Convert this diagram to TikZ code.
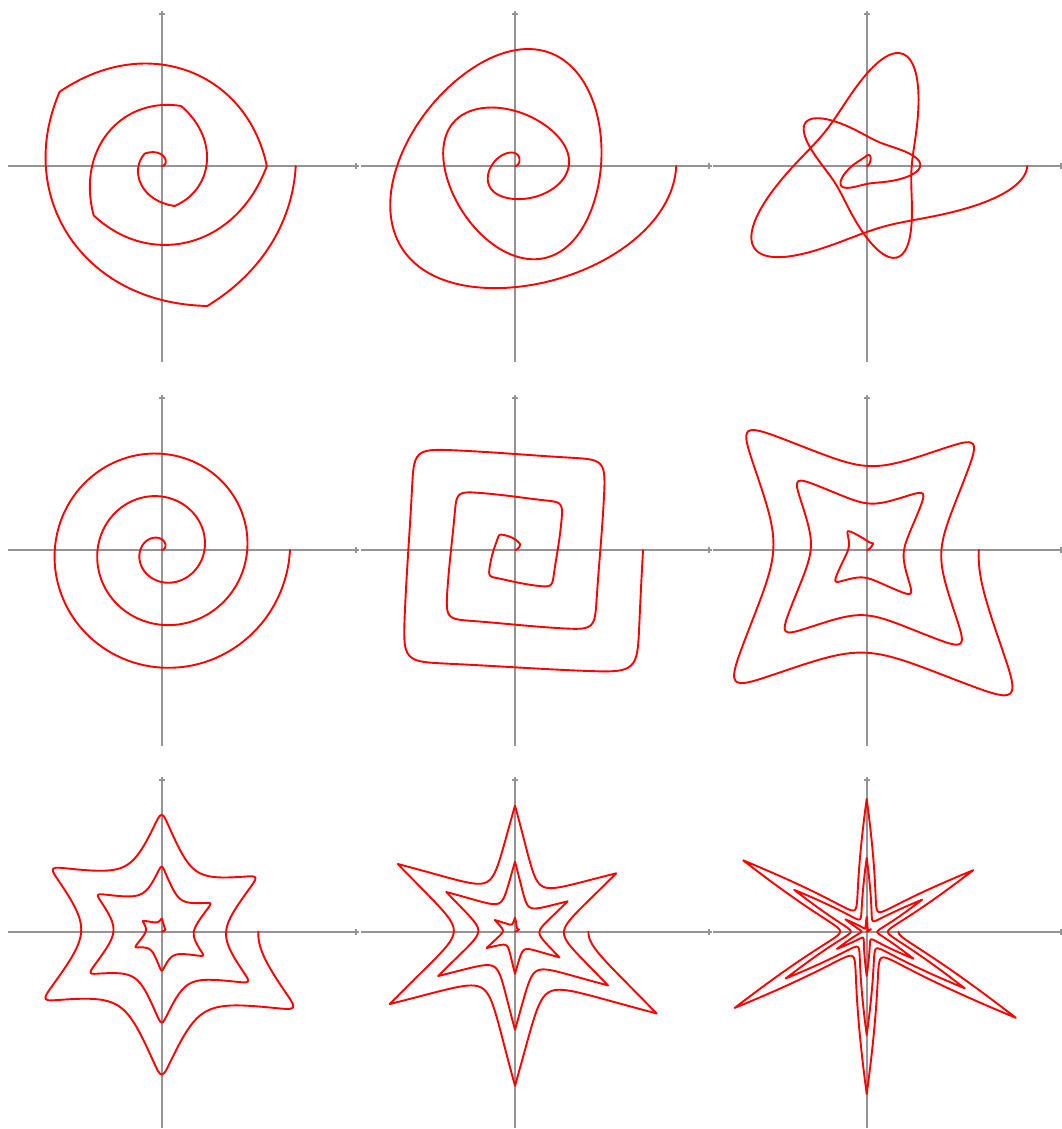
\documentclass[tikz,border=0pt]{standalone}
\begin{document}
\begin{tikzpicture}[x=0.5pt,y=0.5pt,
  declare function={
    sfr(\sfu,\sfn,\sfd)=pow(pow(1.41421*cos(\sfu),\sfn)+pow(1.41421*sin(\sfu),\sfn),-1/\sfd)*pow(2,\sfn/(2*\sfd));
    sfx(\sfu,\sfp)=pow(max(abs(cos(\sfu)),abs(sin(\sfu))),-\sfp);
  },
  axisline/.style={draw=black!42, line width=0.85pt},
  curve/.style={draw=red, line width=0.95pt, line join=round, line cap=round},
  panel/.pic={
    \draw[axisline] (-154,0) -- (197,0);
    \draw[axisline] (0,-196) -- (0,155);
    \draw[axisline] (194,-3) -- (194,3);
    \draw[axisline] (-3,152) -- (3,152);
  }]
\useasboundingbox (0,0) rectangle (1061,1129);
\fill[white] (0,0) rectangle (1061,1129);

% row 1
\begin{scope}[shift={(161.7,963)}]
  \pic {panel};
  \draw[curve] plot[domain=0:1080,samples=541,variable=\t,smooth]
    (\t:{0.146*\t*pow(abs(cos(0.625*\t))+abs(sin(0.625*\t)),-0.47)});
\end{scope}
\begin{scope}[shift={(515,963)}]
  \pic {panel};
  \draw[curve] plot[domain=0:1080,samples=433,variable=\t,smooth]
    (\t:{0.1194*\t*sfr(0.625*\t,4,3.1)});
\end{scope}
\begin{scope}[shift={(866.7,963)}]
  \pic {panel};
  \draw[curve] plot[domain=0:1080,samples=541,variable=\t,smooth]
    (\t:{0.0625*\t*sfr(0.625*\t,8,2.4)});
\end{scope}

% row 2
\begin{scope}[shift={(161.7,579)}]
  \pic {panel};
  \draw[curve] plot[domain=0:1080,samples=217,variable=\t,smooth]
    (\t:{0.1188*\t});
\end{scope}
\begin{scope}[shift={(515,579)}]
  \pic {panel};
  \draw[curve] plot[domain=0:1080,samples=721,variable=\t,smooth]
    (\t:{0.1185*\t*sfr(\t,12,12)});
\end{scope}
\begin{scope}[shift={(866.7,579)}]
  \pic {panel};
  \draw[curve] plot[domain=0:1080,samples=721,variable=\t,smooth]
    (\t:{0.1038*\t*sfr(\t,20,9.8)});
\end{scope}

% row 3
\begin{scope}[shift={(161.7,197.3)}]
  \pic {panel};
  \draw[curve] plot[domain=0:1080,samples=1081,variable=\t,smooth]
    (\t:{0.0895*\t*sfr(1.5*\t,26,17.4)});
\end{scope}
\begin{scope}[shift={(515,197.3)}]
  \pic {panel};
  \draw[curve] plot[domain=0:1080,samples=1081,variable=\t]
    (\t:{0.068*\t*sfx(1.5*\t,2.39)});
\end{scope}
\begin{scope}[shift={(866.7,197.3)}]
  \pic {panel};
  \draw[curve] plot[domain=0:1080,samples=1441,variable=\t]
    (\t:{0.0295*\t*sfx(1.5*\t,4.95)});
\end{scope}
\end{tikzpicture}
\end{document}
